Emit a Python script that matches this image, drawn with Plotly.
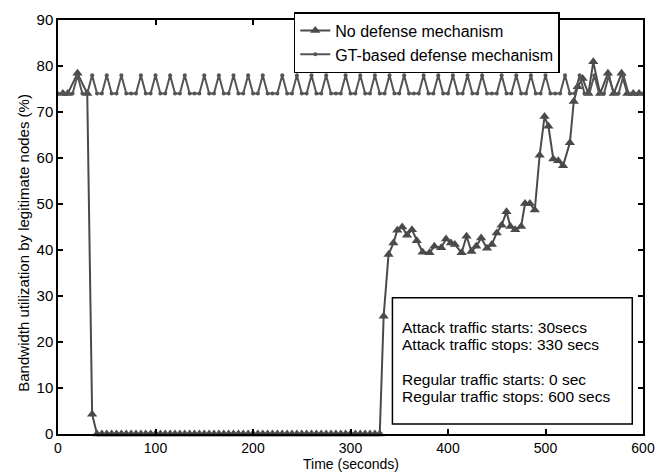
import plotly.graph_objects as go

# GT-based defense mechanism, sampled every 5 s
gt_time = [0, 5, 10, 15, 20, 25, 30, 35, 40, 45, 50, 55, 60, 65, 70, 75, 80, 85, 90, 95,
           100, 105, 110, 115, 120, 125, 130, 135, 140, 145, 150, 155, 160, 165, 170, 175,
           180, 185, 190, 195, 200, 205, 210, 215, 220, 225, 230, 235, 240, 245, 250, 255,
           260, 265, 270, 275, 280, 285, 290, 295, 300, 305, 310, 315, 320, 325, 330, 335,
           340, 345, 350, 355, 360, 365, 370, 375, 380, 385, 390, 395, 400, 405, 410, 415,
           420, 425, 430, 435, 440, 445, 450, 455, 460, 465, 470, 475, 480, 485, 490, 495,
           500, 505, 510, 515, 520, 525, 530, 535, 540, 545, 550, 555, 560, 565, 570, 575,
           580, 585, 590, 595, 600]
gt_bw = [74, 74, 74, 74, 78, 74, 74, 78, 74, 74, 78, 74, 74, 78, 74, 74, 74, 78, 74, 74,
         78, 74, 74, 78, 74, 74, 78, 74, 74, 74, 78, 74, 74, 78, 74, 74,
         78, 74, 74, 78, 74, 74, 78, 74, 74, 74, 78, 74, 74, 78, 74, 74,
         78, 74, 74, 78, 74, 74, 74, 78, 74, 74, 78, 74, 74, 78, 74, 74,
         78, 74, 74, 78, 74, 74, 74, 78, 74, 74, 78, 74, 74, 78, 74, 74,
         78, 74, 74, 78, 74, 74, 74, 78, 74, 74, 78, 74, 74, 78, 74, 74,
         78, 74, 74, 74, 78, 74, 74, 78, 74, 74, 78, 74, 74, 78, 74, 74,
         78, 74, 74, 74, 74]

# No defense mechanism
nd_time = [5, 10, 20, 30, 35,
           40, 45, 50, 55, 60, 65, 70, 75, 80, 85, 90, 95, 100, 105, 110, 115, 120, 125,
           130, 135, 140, 145, 150, 155, 160, 165, 170, 175, 180, 185, 190, 195, 200, 205,
           210, 215, 220, 225, 230, 235, 240, 245, 250, 255, 260, 265, 270, 275, 280, 285,
           290, 295, 300, 305, 310, 315, 320, 325, 330,
           334, 339, 344, 348, 353, 358, 363, 368, 374, 381, 386, 393, 398, 403, 407, 414,
           419, 424, 429, 434, 440, 445, 450, 455, 460, 464, 469, 475, 479, 484, 489, 494,
           499, 503, 508, 513, 518, 525, 529, 533, 538, 544, 549, 556, 564, 570, 578, 584,
           590, 596]
nd_bw = [74, 74, 78.4, 74, 4.3,
         0, 0, 0, 0, 0, 0, 0, 0, 0, 0, 0, 0, 0, 0, 0, 0, 0, 0,
         0, 0, 0, 0, 0, 0, 0, 0, 0, 0, 0, 0, 0, 0, 0, 0,
         0, 0, 0, 0, 0, 0, 0, 0, 0, 0, 0, 0, 0, 0, 0, 0,
         0, 0, 0, 0, 0, 0, 0, 0, 0,
         25.6, 39, 41.5, 44.3, 45, 43.2, 44.4, 42, 39.5, 39.4, 40.8, 40.5, 42.4, 41.5, 41.2, 39.4,
         43, 39.7, 40.8, 42.6, 40.4, 41.2, 43.7, 45.4, 48.3, 45.1, 44.4, 45.1, 50.1, 50.1, 48.7, 60.6,
         69, 66.9, 59.8, 59.4, 58.3, 63.3, 72.3, 75.5, 77.3, 74, 80.9, 74, 78.4, 74, 78.4, 74,
         74, 74]

info_lines = ["Attack traffic starts: 30secs", "Attack traffic stops: 330 secs",
              "Regular traffic starts: 0 sec", "Regular traffic stops: 600 secs"]
info_y = [23.1, 19.4, 11.9, 8.1]

FONT = "Liberation Sans, Arial, sans-serif"

fig = go.Figure()
fig.add_trace(go.Scatter(
    x=nd_time, y=nd_bw, mode="lines+markers", name="No defense mechanism",
    line=dict(color="#4a4a4a", width=2),
    marker=dict(symbol="triangle-up", size=9, color="#4a4a4a"),
    cliponaxis=False,
))
fig.add_trace(go.Scatter(
    x=gt_time, y=gt_bw, mode="lines+markers", name="GT-based defense mechanism",
    line=dict(color="#555555", width=2),
    marker=dict(symbol="circle", size=4, color="#555555"),
    cliponaxis=False,
))

# info box
fig.add_shape(type="rect", x0=343, x1=589, y0=2.2, y1=29.6,
              line=dict(color="black", width=1.5), fillcolor="white", layer="above")
for txt, yy in zip(info_lines, info_y):
    fig.add_annotation(x=350.5, y=yy, text=txt, showarrow=False, xanchor="left",
                       yanchor="middle", font=dict(family=FONT, size=15.5, color="black"))

# axis titles
fig.add_annotation(xref="paper", yref="paper", x=0.5, y=0, yshift=-30,
                   text="Time (seconds)", showarrow=False, yanchor="middle",
                   font=dict(family=FONT, size=14, color="black"))
fig.add_annotation(xref="paper", yref="paper", x=0, xshift=-34, y=0.462,
                   text="Bandwidth utilization by legitimate nodes (%)", showarrow=False,
                   textangle=-90, xanchor="center", yanchor="middle",
                   font=dict(family=FONT, size=15, color="black"))

fig.update_layout(
    width=667, height=472,
    margin=dict(l=58, r=24, t=14, b=38),
    paper_bgcolor="white", plot_bgcolor="white",
    font=dict(family=FONT, size=15, color="black"),
    legend=dict(x=0.403, y=1.019, xanchor="left", yanchor="top",
                bgcolor="white", bordercolor="black", borderwidth=1.5,
                font=dict(family=FONT, size=16, color="black"),
                tracegroupgap=0),
    showlegend=True,
)
fig.update_xaxes(range=[0, 600], dtick=100, tick0=0, showgrid=False, zeroline=False,
                 showline=True, linecolor="black", linewidth=1.5, mirror="ticks",
                 ticks="inside", ticklen=5, tickcolor="black", tickwidth=1.5,
                 tickfont=dict(size=14))
fig.update_yaxes(range=[0, 90], dtick=10, tick0=0, showgrid=False, zeroline=False,
                 showline=True, linecolor="black", linewidth=1.5, mirror="ticks",
                 ticks="inside", ticklen=5, tickcolor="black", tickwidth=1.5)

fig.write_html("out.html", config={"displayModeBar": False},
               post_script="document.body.style.margin='0';")
